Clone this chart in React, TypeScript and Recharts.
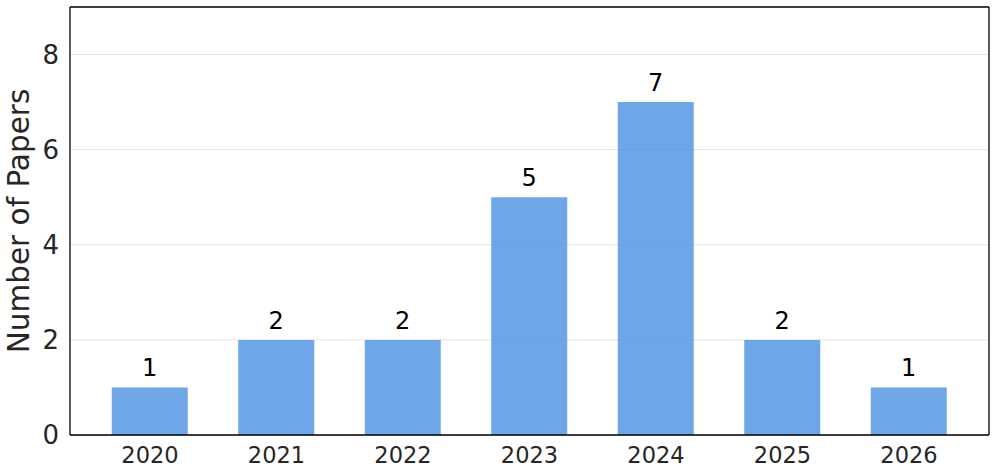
import React from "react";
import { BarChart, Bar, XAxis, YAxis, CartesianGrid, LabelList, Label } from "recharts";

const years = ["2020", "2021", "2022", "2023", "2024", "2025", "2026"];
const papers = [1, 2, 2, 5, 7, 2, 1];
const yTicks = [0, 2, 4, 6, 8];

const data = years.map((y, i) => ({ year: y, count: papers[i] }));

const FONT = "'DejaVu Sans', sans-serif";

export default function App() {
  return (
    <div style={{ position: "absolute", left: 0, top: 0, width: 996, height: 475, background: "#fff" }}>
      <BarChart
        width={996}
        height={475}
        data={data}
        margin={{ top: 7, right: 7, bottom: 0, left: 0 }}
        style={{ fontFamily: FONT }}
      >
        <CartesianGrid vertical={false} stroke="#e3e3e3" strokeWidth={1} />
        <CartesianGrid
          stroke="#000"
          strokeWidth={1.3}
          horizontalCoordinatesGenerator={(p: any) => [p.offset.top]}
          verticalCoordinatesGenerator={(p: any) => [p.offset.left + p.offset.width]}
        />
        <XAxis
          dataKey="year"
          height={40}
          padding={{ left: 16.75, right: 16.75 }}
          tickLine={false}
          axisLine={{ stroke: "#000", strokeWidth: 1.3 }}
          tick={{ fill: "#262626", fontSize: 22.5, fontFamily: FONT }}
          tickMargin={6}
          interval={0}
        />
        <YAxis
          width={70}
          domain={[0, 9]}
          ticks={yTicks}
          tickLine={false}
          axisLine={{ stroke: "#000", strokeWidth: 1.3 }}
          tick={{ fill: "#262626", fontSize: 26, fontFamily: FONT }}
          tickMargin={5}
        >
          <Label
            content={(props: any) => {
              const vb = props.viewBox || {};
              const cy = (vb.y || 0) + (vb.height || 0) / 2;
              const cx = 19;
              return (
                <text
                  x={cx}
                  y={cy}
                  transform={`rotate(-90, ${cx}, ${cy})`}
                  textAnchor="middle"
                  dominantBaseline="central"
                  fill="#262626"
                  fontSize={29.5}
                  fontFamily={FONT}
                >
                  Number of Papers
                </text>
              );
            }}
          />
        </YAxis>
        <Bar dataKey="count" fill="#4A90E2" fillOpacity={0.8} barSize={76} isAnimationActive={false}>
          <LabelList dataKey="count" position="top" offset={11} fill="#000" fontSize={24} fontFamily={FONT} />
        </Bar>
      </BarChart>
    </div>
  );
}
